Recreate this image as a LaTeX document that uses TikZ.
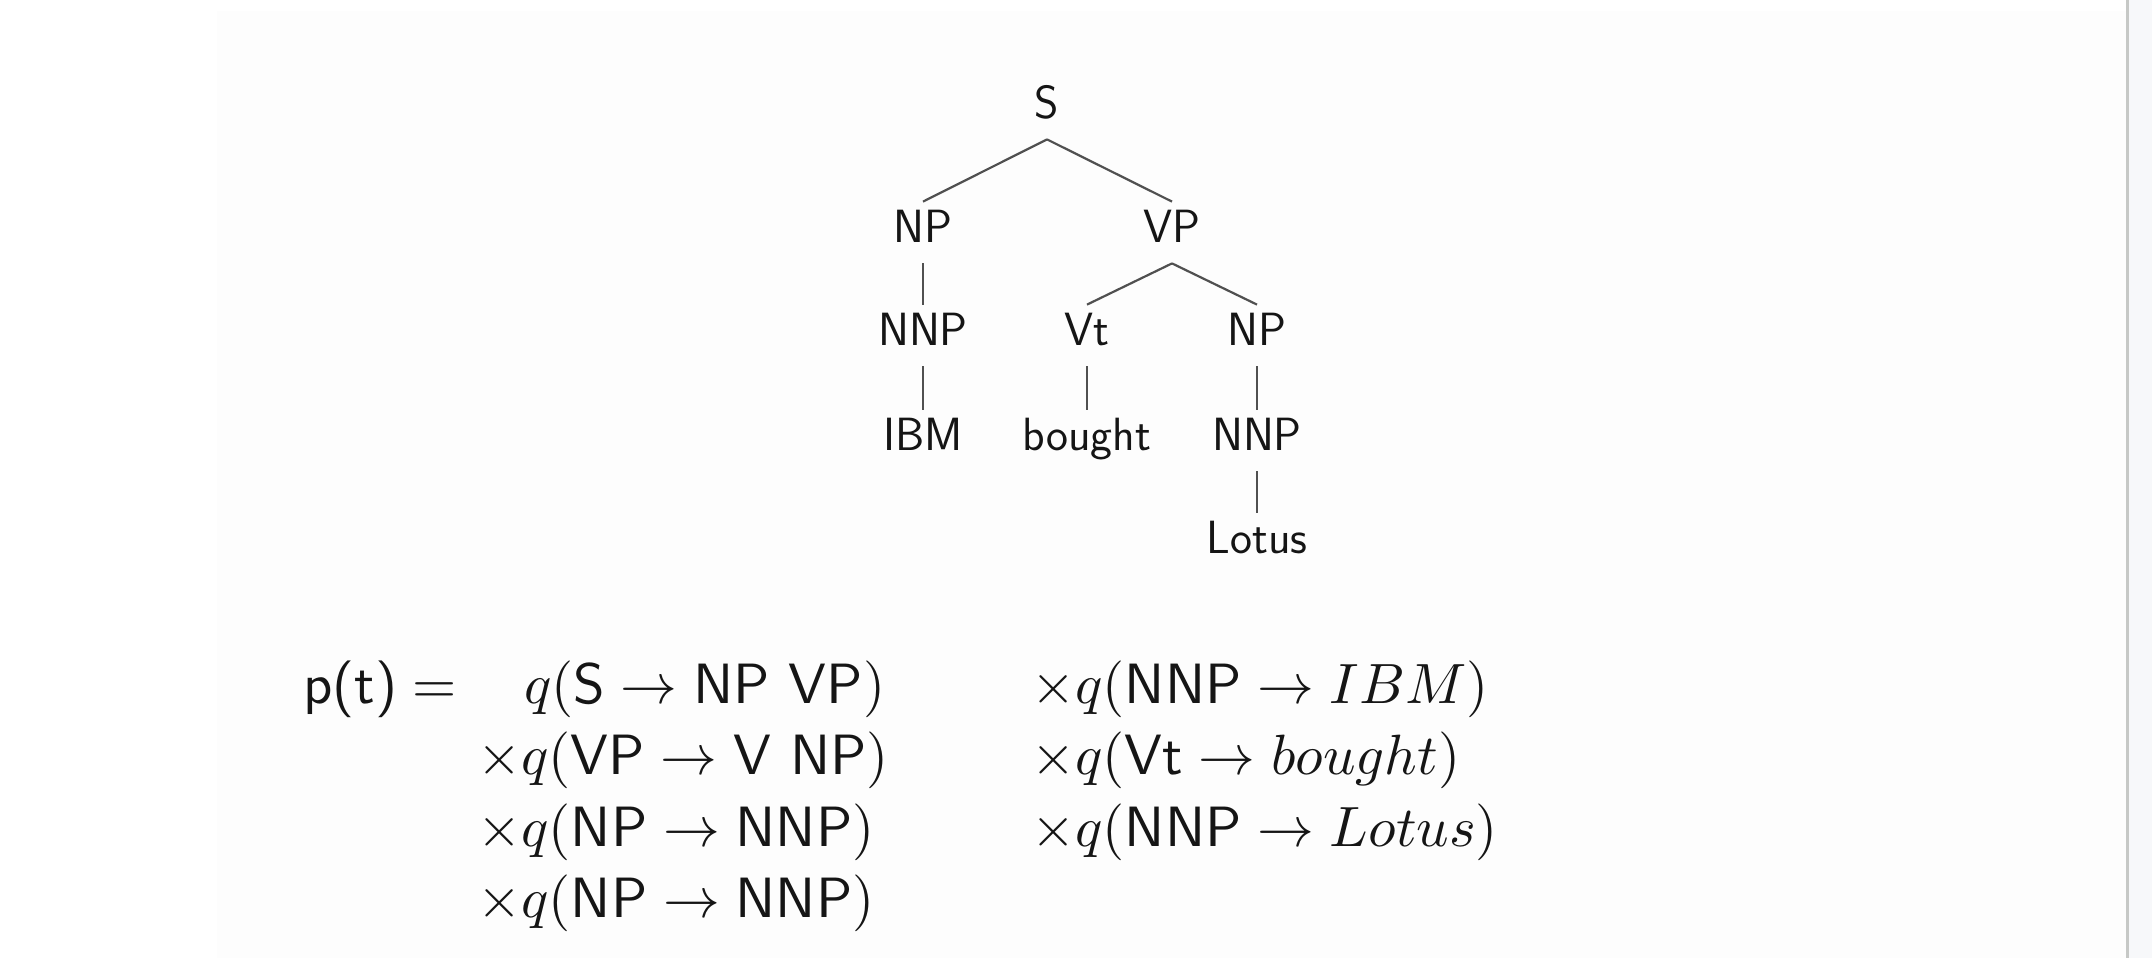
\documentclass[tikz,border=0pt]{standalone}
\usepackage{tikz}
\definecolor{slidebg}{HTML}{FDFDFD}
\definecolor{barcol}{HTML}{C6C8C6}
\definecolor{panelcol}{HTML}{F7F8FA}
\definecolor{edgecol}{HTML}{505050}
\definecolor{inkcol}{HTML}{151515}
\tikzset{
  tnode/.style={anchor=base, inner sep=0pt, text height=20pt, text depth=10.5pt,
    font=\sffamily\fontsize{23.3}{28}\selectfont, text=inkcol},
  tedge/.style={draw=edgecol, line width=1.1pt},
  fnode/.style={anchor=base west, inner sep=0pt, scale=2.84, transform shape,
    font=\sffamily\fontsize{10}{12}\selectfont, text=inkcol},
}
\begin{document}
\begin{tikzpicture}[x=0.5pt,y=-0.5pt]
\useasboundingbox (0,0) rectangle (2152,958);
\fill[white] (0,0) rectangle (2152,958);
\fill[slidebg] (217,11) rectangle (2126,958);
\fill[barcol] (2126,0) rectangle (2129,958);
\fill[panelcol] (2129,0) rectangle (2152,958);

% tree
\node[tnode] (S) at (1047,118) {S};
\node[tnode] (NP1) at (923,242) {NP};
\node[tnode] (VP) at (1172,242) {VP};
\node[tnode] (NNP1) at (923,345) {NNP};
\node[tnode] (Vt) at (1087,345) {Vt};
\node[tnode] (NP2) at (1257,345) {NP};
\node[tnode] (IBM) at (923,450) {IBM};
\node[tnode] (bought) at (1087,450) {bought};
\node[tnode] (NNP2) at (1257,450) {NNP};
\node[tnode] (Lotus) at (1257,553) {Lotus};

\draw[tedge] (S.south) -- (NP1.north);
\draw[tedge] (S.south) -- (VP.north);
\draw[tedge] (NP1.south) -- (NNP1.north);
\draw[tedge] (NNP1.south) -- (IBM.north);
\draw[tedge] (VP.south) -- (Vt.north);
\draw[tedge] (VP.south) -- (NP2.north);
\draw[tedge] (Vt.south) -- (bought.north);
\draw[tedge] (NP2.south) -- (NNP2.north);
\draw[tedge] (NNP2.south) -- (Lotus.north);

% formula
\node[fnode] (pt) at (302,703) {$\textsf{p(t)} =$};
\node[fnode] (r1) at (523,703) {$q(\textsf{S}\to\textsf{NP VP})$};
\node[fnode] (r2) at (476,774) {$\times q(\textsf{VP}\to\textsf{V NP})$};
\node[fnode] (r3) at (476,846) {$\times q(\textsf{NP}\to\textsf{NNP})$};
\node[fnode] (r4) at (476,917) {$\times q(\textsf{NP}\to\textsf{NNP})$};
\node[fnode] (c1) at (1030,703) {$\times q(\textsf{NNP}\to IBM)$};
\node[fnode] (c2) at (1030,774) {$\times q(\textsf{Vt}\to bought)$};
\node[fnode] (c3) at (1030,846) {$\times q(\textsf{NNP}\to Lotus)$};
\end{tikzpicture}
\end{document}
